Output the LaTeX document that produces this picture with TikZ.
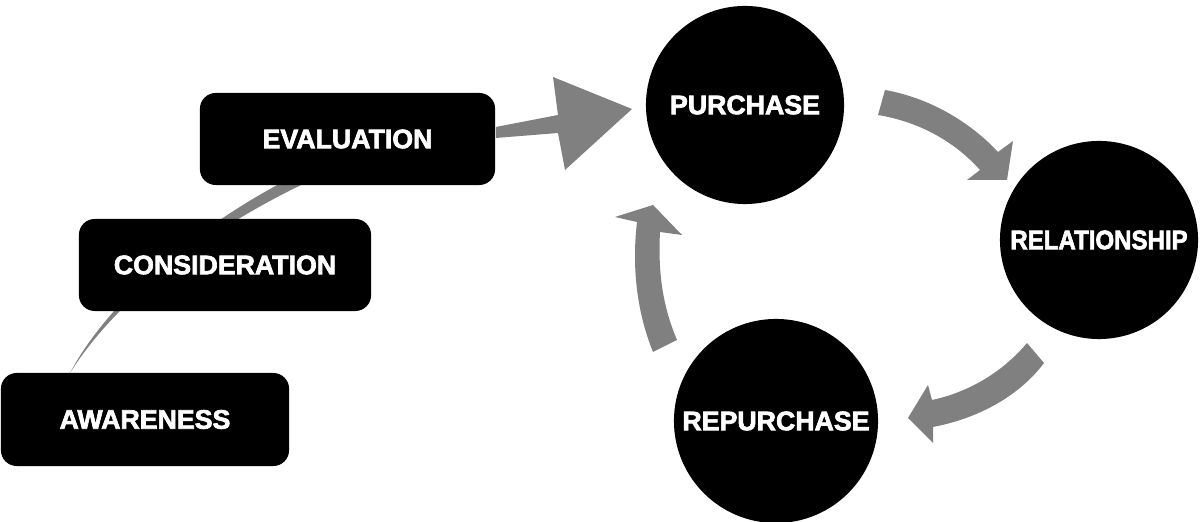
\documentclass[tikz,border=0pt]{standalone}
\usepackage{fontspec}
\setmainfont{Liberation Sans}
\newfontfamily\heavyfont{Liberation Sans}[BoldFeatures={FakeBold=2.5}]
\definecolor{flowgray}{RGB}{128,128,128}

\begin{document}
\begin{tikzpicture}[x=0.01cm, y=-0.01cm,
  stage/.style={fill=black, rounded corners=4.5pt, inner sep=0pt,
    minimum width=2.92cm, minimum height=0.92cm,
    text=white, font=\heavyfont\bfseries\fontsize{7.6}{9}\selectfont},
  cycle/.style={circle, fill=black, inner sep=0pt,
    text=white, font=\heavyfont\bfseries\fontsize{7.6}{9}\selectfont},
  flow/.style={fill=flowgray}]
  \useasboundingbox (0,0) rectangle (1200,522);

  % Tapered line behind the funnel boxes
  \fill[flow] (70,373) .. controls (106,305) and (190,228) .. (302,172)
    -- (316,178) .. controls (194,234) and (110,309) .. (70,373) -- cycle;

  % Funnel stages
  \node[stage, minimum width=2.95cm] (eval) at (347.5,139) {EVALUATION};
  \node[stage] (consid) at (225,265) {CONSIDERATION};
  \node[stage, minimum width=2.88cm, minimum height=0.93cm] (aware) at (145,419.5) {AWARENESS};

  % Loop stages
  \node[cycle, minimum size=1.98cm] (purch) at (745,105) {PURCHASE};
  \node[cycle, minimum size=1.98cm] (relat) at (1099,240) {\scalebox{0.9}[1]{RELATIONSHIP}};
  \node[cycle, minimum size=2.04cm] (repur) at (776,421) {REPURCHASE};

  % Evaluation into purchase
  \fill[flow] (eval.east |- 0,127) -- (558,115) -- (553,77) -- (632,109)
    -- (565,170) -- (558,133) -- (eval.east |- 0,138) -- cycle;

  % Purchase to relationship
  \fill[flow] (885,90) .. controls (930,98) and (970,122) .. (998,152)
    -- (1013,141) -- (1007,180) -- (967,180) -- (980,170)
    .. controls (955,142) and (920,122) .. (878,115) -- cycle;

  % Relationship to repurchase
  \fill[flow] (1027,343) .. controls (1000,375) and (965,393) .. (932,400)
    -- (928,385) -- (908,418) -- (933,443) -- (933,427)
    .. controls (980,418) and (1020,395) .. (1044,363) -- cycle;

  % Repurchase back to purchase
  \fill[flow] (653,352) .. controls (636,310) and (632,265) .. (637,222)
    -- (615,217) -- (653,205) -- (682,235) -- (660,232)
    .. controls (658,270) and (662,305) .. (677,340) -- cycle;
\end{tikzpicture}
\end{document}
